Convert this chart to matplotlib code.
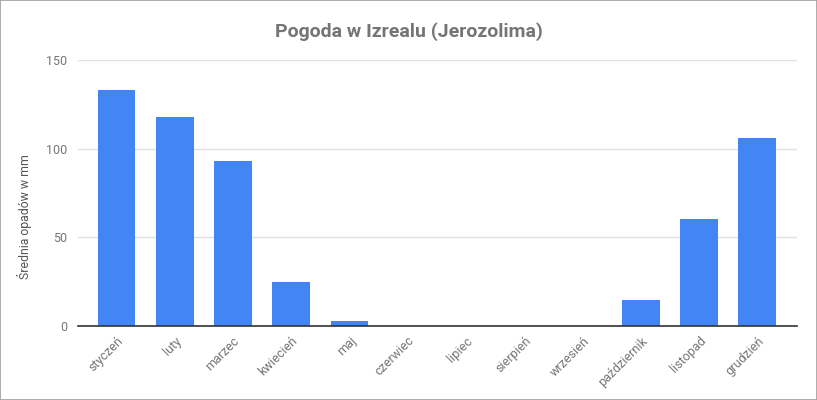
import matplotlib
matplotlib.use("Agg")
import matplotlib.pyplot as plt

months = ["styczeń", "luty", "marzec", "kwiecień", "maj", "czerwiec", "lipiec",
          "sierpień", "wrzesień", "październik", "listopad", "grudzień"]
rainfall = [132.9, 117.7, 92.9, 25.0, 3.0, 0, 0, 0, 0, 14.7, 60.5, 105.9]
y_ticks = [0, 50, 100, 150]

plt.rcParams['font.family'] = ['Roboto', 'DejaVu Sans']

fig = plt.figure(figsize=(8.17, 4.0), dpi=100)
ax = fig.add_axes([78/817, 1-326/400, (797-78)/817, (326-60)/400])

x = list(range(len(months)))
ax.bar(x, rainfall, width=0.65, color="#4285f4", zorder=3)

ax.set_xlim(-0.66, 11.68)
ax.set_ylim(0, 150)
ax.set_yticks(y_ticks)
ax.set_yticklabels([str(v) for v in y_ticks])
ax.set_xticks(x)
ax.set_xticklabels(months, rotation=45, ha="right", rotation_mode="anchor")

ax.grid(axis="y", color="#e0e0e0", linewidth=1, zorder=0)
for s in ["top", "right", "left"]:
    ax.spines[s].set_visible(False)
ax.spines["bottom"].set_color("#333333")
ax.spines["bottom"].set_linewidth(1.2)
ax.spines["bottom"].set_zorder(4)
ax.tick_params(axis="both", length=0, labelsize=9, labelcolor="#757575")
ax.tick_params(axis="x", pad=6)
ax.tick_params(axis="y", pad=8)

ax.set_ylabel("Średnia opadów w mm", fontsize=8.8, color="#555555")
ax.yaxis.set_label_coords((32 - 78) / 719, (326 - 217) / 266)
fig.suptitle("Pogoda w Izrealu (Jerozolima)", fontsize=14, fontweight="bold",
             color="#757575", y=1-32/400, va="center")

border = plt.Rectangle((0.0006, 0.0012), 0.9988, 0.9976, transform=fig.transFigure,
                       fill=False, edgecolor="#9e9e9e", linewidth=1.2)
fig.patches.append(border)

fig.savefig("out.png", dpi=100, facecolor="white")
